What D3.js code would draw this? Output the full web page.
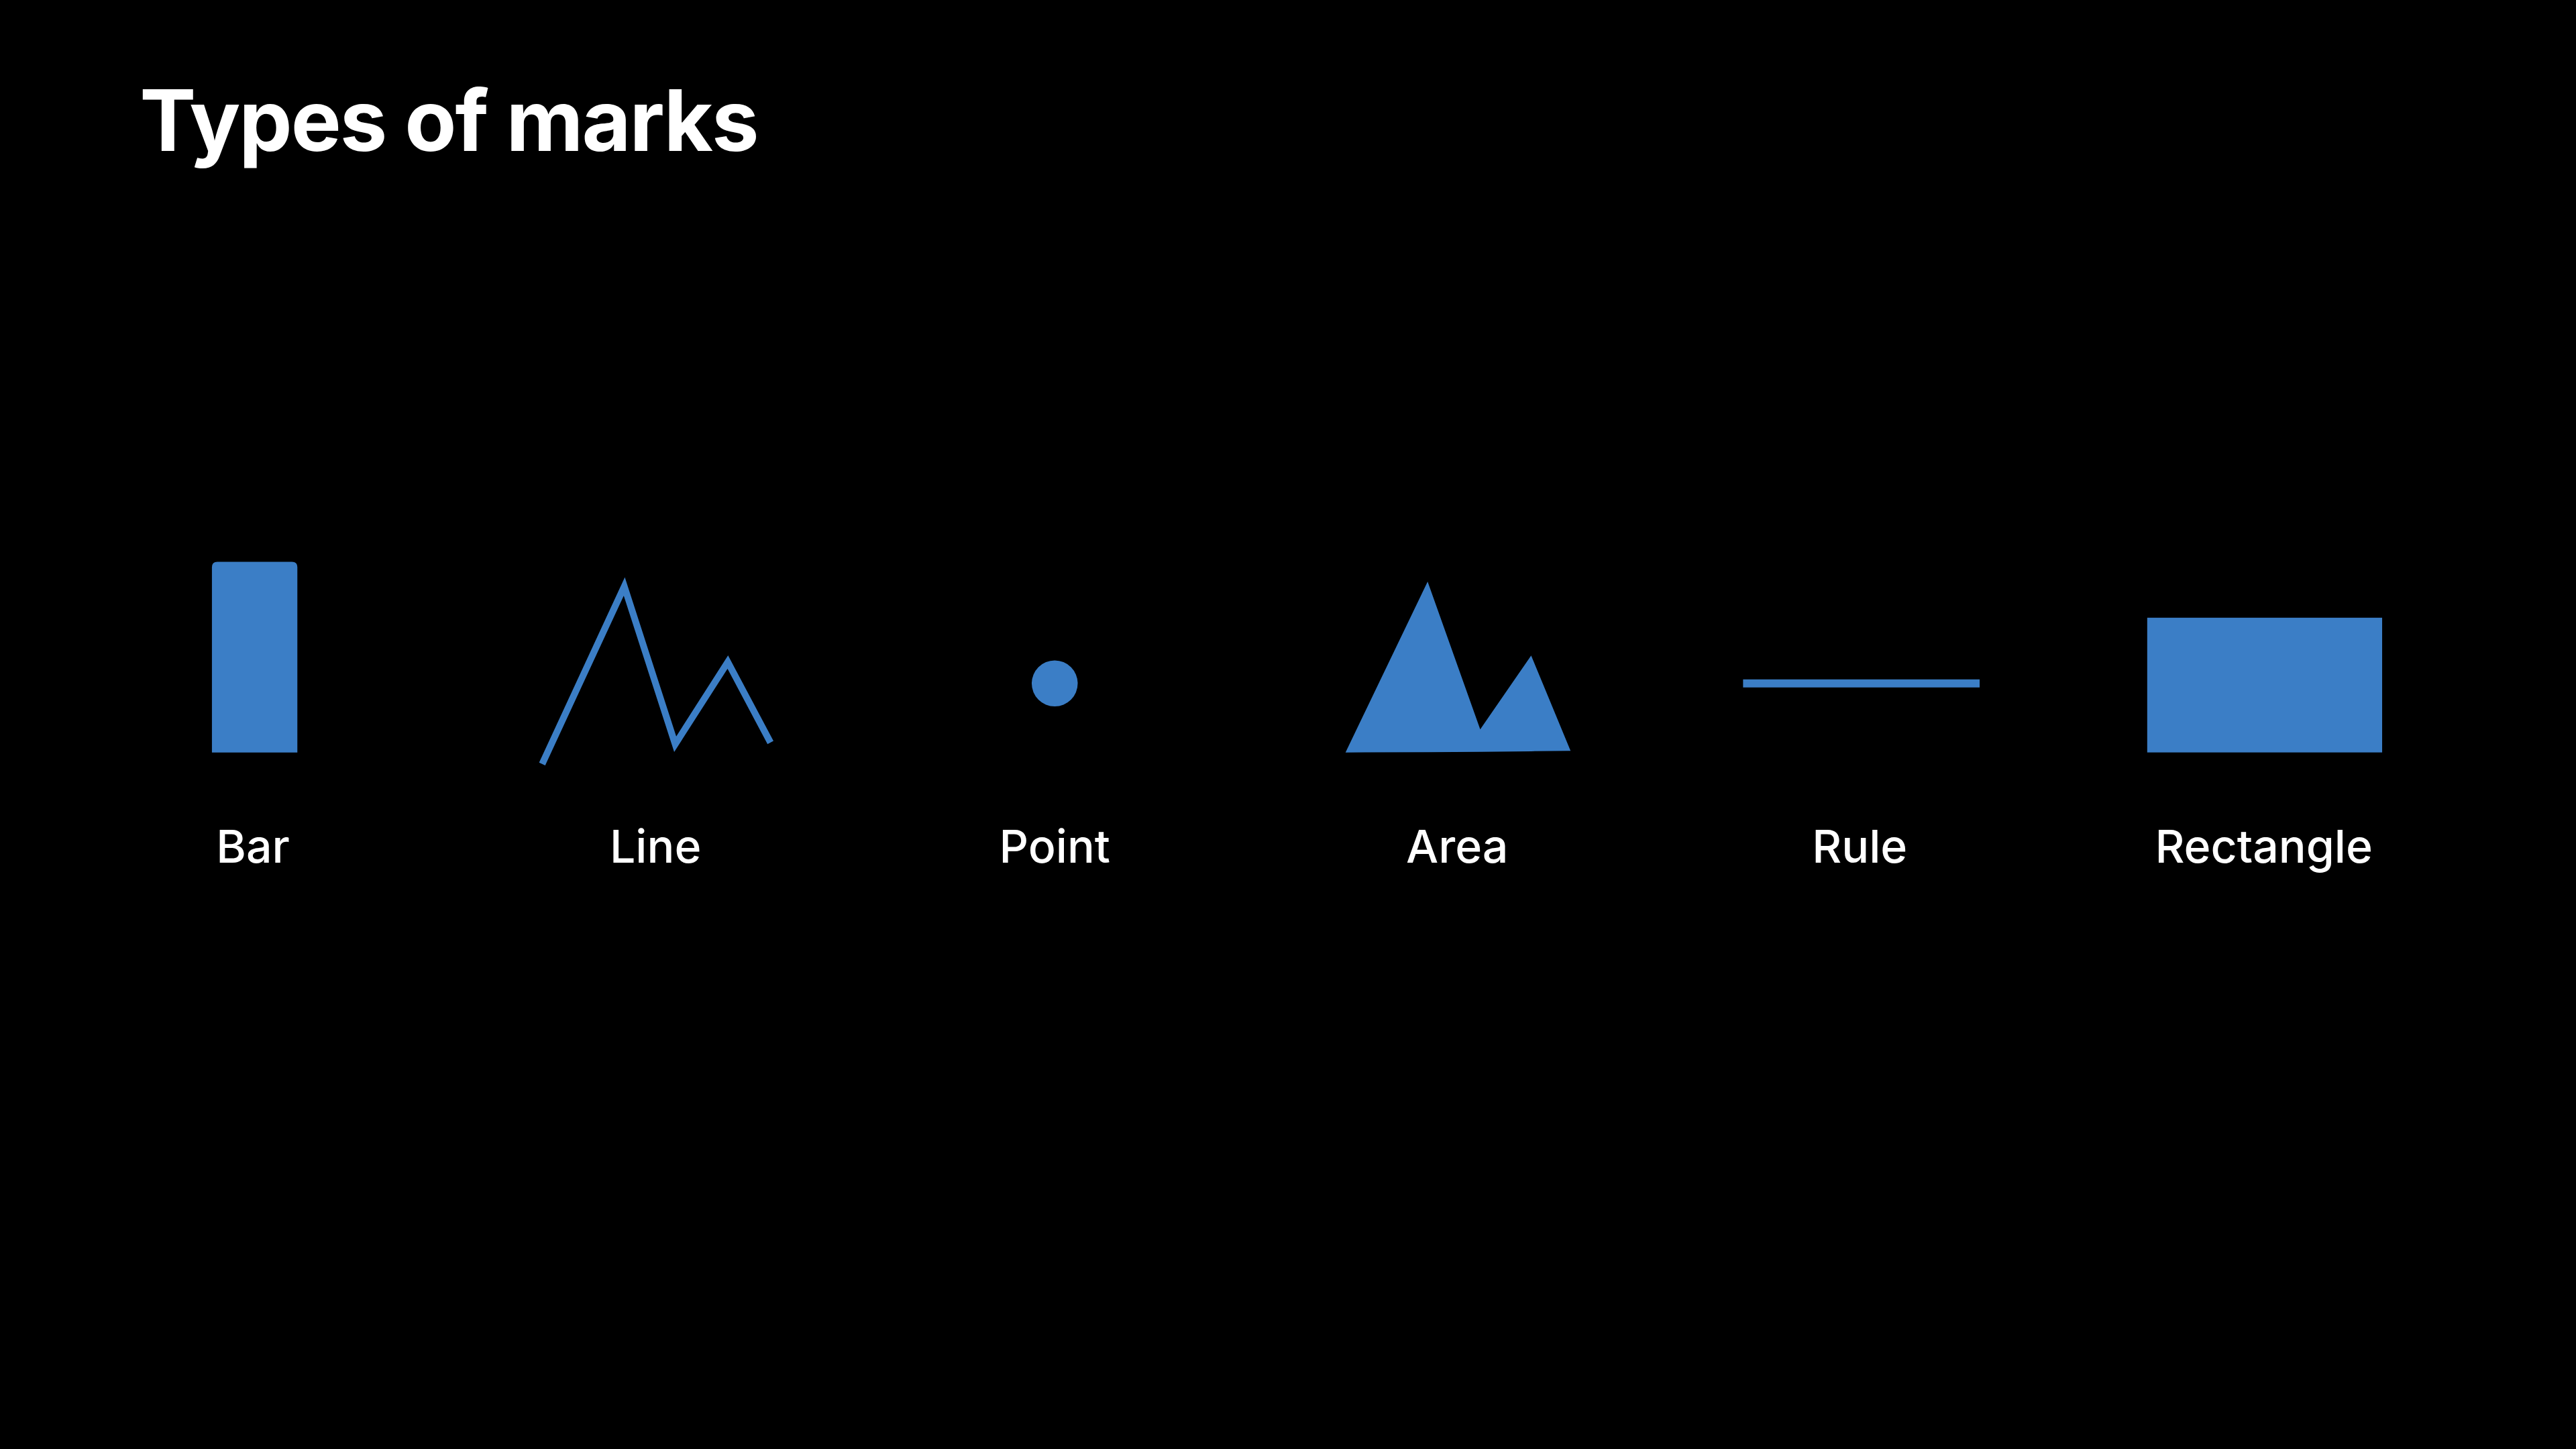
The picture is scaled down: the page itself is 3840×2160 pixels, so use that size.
<!DOCTYPE html>
<html>
<head>
<meta charset="utf-8">
<script src="https://cdn.jsdelivr.net/npm/d3@7"></script>
<style>
  html, body { margin: 0; padding: 0; background: #000; }
  svg { display: block; }
</style>
</head>
<body>
<div id="chart"></div>
<script>
// Mark names shown under each glyph
const categories = ["Bar", "Line", "Point", "Area", "Rule", "Rectangle"];
// Sample series drawn by the glyphs (x, y in slide units)
const lineValues = [[330, 465], [380, 357], [411, 453], [443, 403], [469, 452]];
const areaValues = [[819, 458, 458], [869, 354, 457.8], [901, 444, 457.6], [932, 399, 457.3], [956, 457, 457]];
const barValue = { x0: 129, x1: 181, y0: 458, y1: 342 };
const pointValue = { x: 642, y: 416, r: 14 };
const ruleValue = { x0: 1061, x1: 1205, y: 416 };
const rectValue = { x0: 1307, x1: 1450, y0: 458, y1: 376 };
const labelX = [154, 399, 642, 887, 1132, 1378];

const W = 3840, H = 2160;
const blue = "#3b7ec6";

const x = d3.scaleLinear().domain([0, 1568]).range([0, W]);
const y = d3.scaleLinear().domain([0, 882]).range([0, H]);

const svg = d3.select("#chart").append("svg")
  .attr("width", W).attr("height", H)
  .style("background", "#000");

svg.append("text")
  .attr("x", x(85)).attr("y", y(92))
  .attr("fill", "#fff")
  .attr("font-family", "Inter, 'Open Sans', sans-serif")
  .attr("font-weight", 700)
  .attr("font-size", 126)
  .attr("letter-spacing", -2)
  .text("Types of marks");

// Bar with rounded top
const bw = x(barValue.x1) - x(barValue.x0);
const bh = y(barValue.y0) - y(barValue.y1);
const rr = 8;
svg.append("path")
  .attr("fill", blue)
  .attr("d", `M${x(barValue.x0)},${y(barValue.y0)} V${y(barValue.y1) + rr}
    q0,-${rr} ${rr},-${rr} H${x(barValue.x1) - rr} q${rr},0 ${rr},${rr} V${y(barValue.y0)} Z`);

// Line
svg.append("path")
  .datum(lineValues)
  .attr("fill", "none")
  .attr("stroke", blue)
  .attr("stroke-width", 10)
  .attr("stroke-linejoin", "miter")
  .attr("d", d3.line().x(d => x(d[0])).y(d => y(d[1])));

// Point
svg.append("circle")
  .attr("cx", x(pointValue.x)).attr("cy", y(pointValue.y))
  .attr("r", x(pointValue.r))
  .attr("fill", blue);

// Area
svg.append("path")
  .datum(areaValues)
  .attr("fill", blue)
  .attr("d", d3.area().x(d => x(d[0])).y0(d => y(d[2])).y1(d => y(d[1])));

// Rule
svg.append("line")
  .attr("x1", x(ruleValue.x0)).attr("x2", x(ruleValue.x1))
  .attr("y1", y(ruleValue.y)).attr("y2", y(ruleValue.y))
  .attr("stroke", blue).attr("stroke-width", 12);

// Rectangle
svg.append("rect")
  .attr("x", x(rectValue.x0)).attr("y", y(rectValue.y1))
  .attr("width", x(rectValue.x1) - x(rectValue.x0))
  .attr("height", y(rectValue.y0) - y(rectValue.y1))
  .attr("fill", blue);

// Labels
svg.selectAll("text.label")
  .data(categories)
  .enter()
  .append("text")
  .attr("class", "label")
  .attr("x", (d, i) => x(labelX[i]))
  .attr("y", y(525))
  .attr("text-anchor", "middle")
  .attr("fill", "#fff")
  .attr("font-family", "Inter, 'Open Sans', sans-serif")
  .attr("font-weight", 500)
  .attr("font-size", 68)
  .text(d => d);
</script>
</body>
</html>
